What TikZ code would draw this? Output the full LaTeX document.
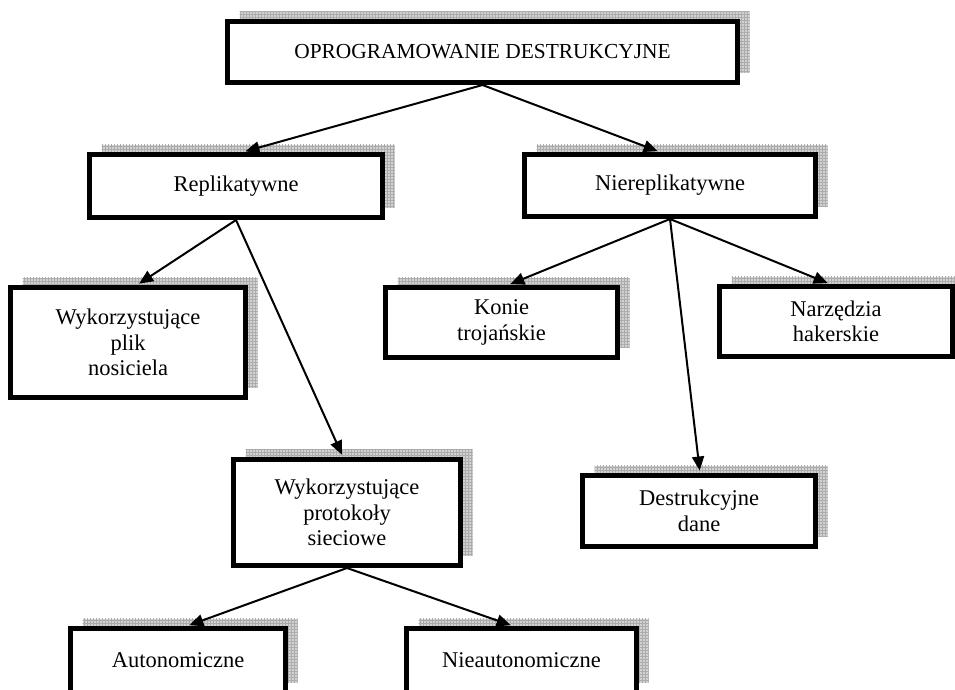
\documentclass[tikz,border=0pt]{standalone}
\usepackage{fontspec}
\setmainfont{Liberation Serif}
\usetikzlibrary{shadows,patterns,arrows.meta}

\begin{document}
\begin{tikzpicture}[x=1pt,y=-1pt,
  box/.style={draw, line width=5pt, fill=white, align=center, inner sep=0pt,
    font=\fontsize{22.5}{25.5}\selectfont,
    general shadow={shadow xshift=12pt, shadow yshift=10pt, fill=gray!35},
    general shadow={shadow xshift=12pt, shadow yshift=10pt, pattern=grid, pattern color=gray!65}},
  arr/.style={line width=2pt, shorten >=2.5pt, -{Triangle[length=14pt,width=12pt]}}]
\useasboundingbox (0,0) rectangle (955,689);
\clip (0,0) rectangle (955,689);

% top level
\node[box, minimum width=510pt, minimum height=61pt, font=\fontsize{21.4}{24}\selectfont] (top) at (482.5,52) {OPROGRAMOWANIE DESTRUKCYJNE};

% second level
\node[box, minimum width=293pt, minimum height=63pt] (rep) at (236,186) {Replikatywne};
\node[box, minimum width=291pt, minimum height=62pt] (nrep) at (670,185.5) {Niereplikatywne};

% third level
\node[box, minimum width=235pt, minimum height=110pt] (plik) at (128,342.5) {Wykorzystujące\\plik\\nosiciela};
\node[box, minimum width=232pt, minimum height=70pt] (konie) at (501.5,322.5) {Konie\\trojańskie};
\node[box, minimum width=233pt, minimum height=70pt] (narz) at (836,321.5) {Narzędzia\\hakerskie};

% fourth level
\node[box, minimum width=227pt, minimum height=106pt] (prot) at (347,512.5) {Wykorzystujące\\protokoły\\sieciowe};
\node[box, minimum width=233pt, minimum height=71pt] (dest) at (699,511) {Destrukcyjne\\dane};

% bottom level
\node[box, minimum width=215pt, minimum height=64pt] (auto) at (178,660.5) {Autonomiczne};
\node[box, minimum width=230pt, minimum height=64pt] (nauto) at (521.5,660.5) {Nieautonomiczne};

% connectors
\draw[arr] (top.south) -- ([xshift=7pt]rep.north);
\draw[arr] (top.south) -- ([xshift=-10pt]nrep.north);
\draw[arr] (rep.south) -- ([xshift=9pt]plik.north);
\draw[arr] (rep.south) -- ([xshift=-4pt]prot.north);
\draw[arr] (nrep.south) -- ([xshift=6.5pt]konie.north);
\draw[arr] (nrep.south) -- ([xshift=-6pt]narz.north);
\draw[arr] (nrep.south) -- ([xshift=1pt]dest.north);
\draw[arr] (prot.south) -- ([xshift=9pt]auto.north);
\draw[arr] (prot.south) -- ([xshift=-8.5pt]nauto.north);
\end{tikzpicture}
\end{document}
